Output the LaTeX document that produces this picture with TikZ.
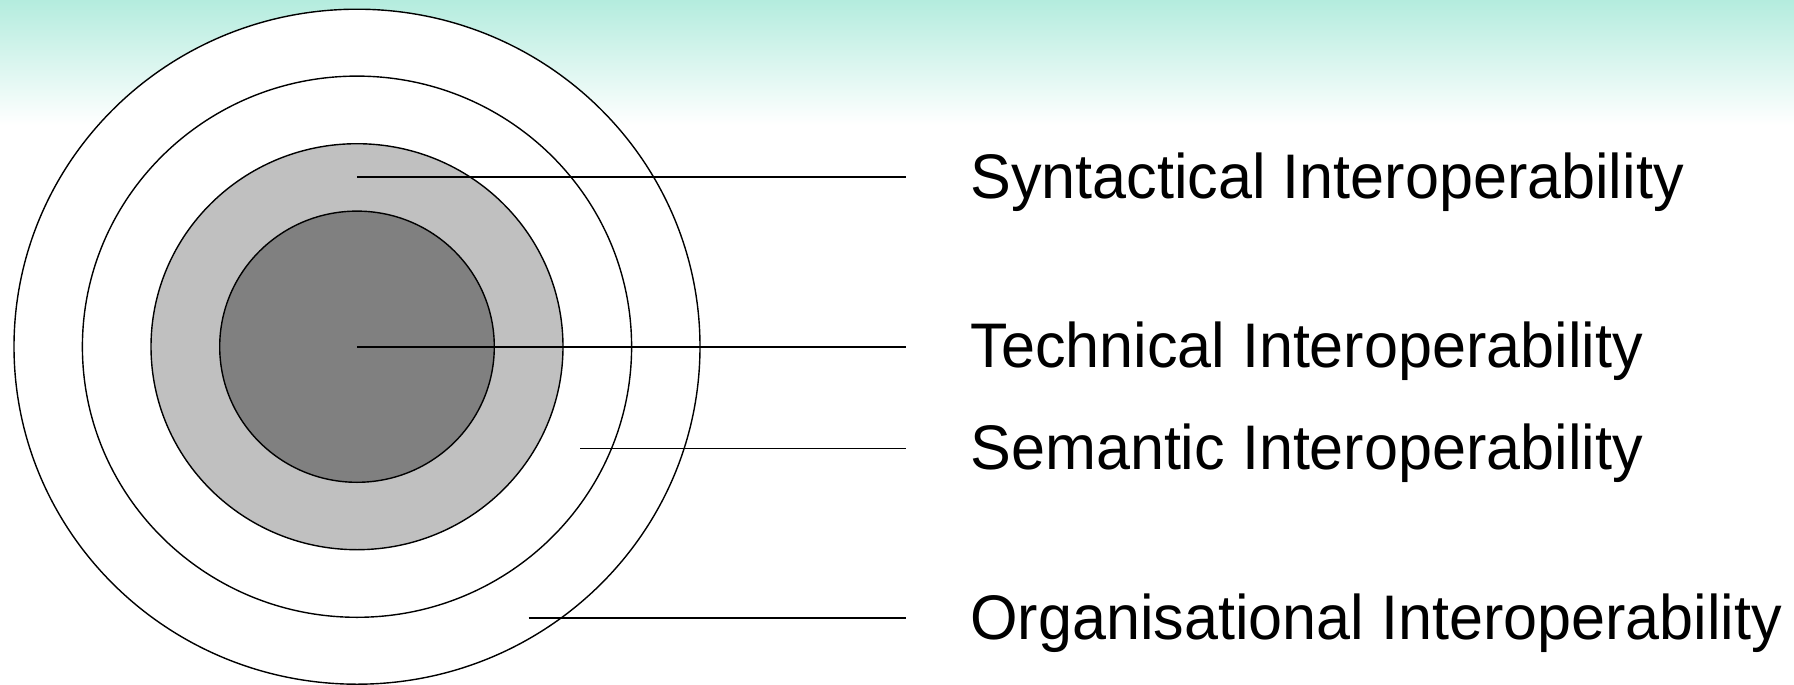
\documentclass[tikz,border=0pt]{standalone}
\usepackage{fontspec}
\setmainfont[FakeStretch=0.97]{Liberation Sans}
\usetikzlibrary{positioning}
\definecolor{TopMint}{RGB}{180,236,222}
\definecolor{RingLight}{RGB}{192,192,192}
\definecolor{RingDark}{RGB}{128,128,128}
\tikzset{
	ring/.style={draw=black, line width=0.7pt},
	lead/.style={draw=black, line width=0.9pt},
	lbl/.style={font=\fontsize{31.5}{36}\selectfont, inner sep=0pt, anchor=west, yshift=-2.5pt}
}
\begin{document}
\begin{tikzpicture}[x=0.5pt, y=-0.5pt, node distance=32pt]
		\useasboundingbox (0,0) rectangle (1794,685);
		\fill[top color=TopMint, bottom color=white] (0,0) rectangle (1794,125);
		% rings
		\coordinate (ctr) at (357,346.7);
		\fill[white] (ctr) ellipse [x radius=171.5pt, y radius=168.75pt];
		\draw[ring] (ctr) ellipse [x radius=171.5pt, y radius=168.75pt];
		\draw[ring, fill=white] (ctr) ellipse [x radius=137.3pt, y radius=135.3pt];
		\draw[ring, fill=RingLight] (ctr) ellipse [x radius=103pt, y radius=101.5pt];
		\draw[ring, fill=RingDark] (ctr) ellipse [x radius=68.65pt, y radius=67.8pt];
		% leaders
		\coordinate (syn-a) at (357,177.3);   \coordinate (syn-b) at (906,177.3);
		\coordinate (tec-a) at (357,346.7);   \coordinate (tec-b) at (906,346.7);
		\coordinate (sem-a) at (580,448.5);   \coordinate (sem-b) at (906,448.5);
		\coordinate (org-a) at (528.6,617.8); \coordinate (org-b) at (906,617.8);
		\node[lbl, right=of syn-b] (syn) {Syntactical Interoperability};
		\node[lbl, right=of tec-b] (tec) {Technical Interoperability};
		\node[lbl, right=of sem-b] (sem) {Semantic Interoperability};
		\node[lbl, right=of org-b] (org) {Organisational Interoperability};
		\draw[lead] (syn-a) -- (syn-b);
		\draw[lead] (tec-a) -- (tec-b);
		\draw[lead] (sem-a) -- (sem-b);
		\draw[lead] (org-a) -- (org-b);
	\end{tikzpicture}
\end{document}
